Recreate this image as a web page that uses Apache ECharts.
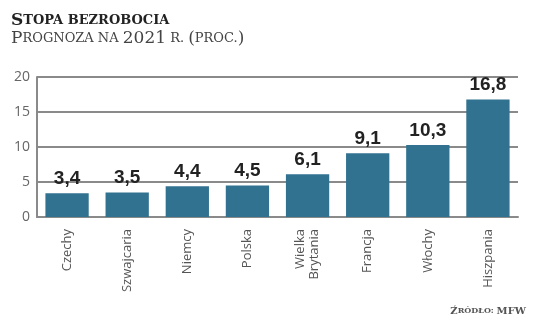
<!DOCTYPE html>
<html>
<head>
<meta charset="utf-8">
<script src="https://cdn.jsdelivr.net/npm/echarts@6/dist/echarts.min.js"></script>
<style>html,body{margin:0;padding:0;background:#fff}#c{width:536px;height:331px}</style>
</head>
<body>
<div id="c"></div>
<script>
var categories = ['Czechy', 'Szwajcaria', 'Niemcy', 'Polska', 'Wielka\nBrytania', 'Francja', 'Włochy', 'Hiszpania'];
var values = [3.4, 3.5, 4.4, 4.5, 6.1, 9.1, 10.3, 16.8];
var yTicks = [0, 5, 10, 15, 20];

var chart = echarts.init(document.getElementById('c'), null, {renderer: 'canvas'});
var serif = '"DejaVu Serif", serif';
chart.setOption({
  animation: false,
  grid: {left: 37, right: 18, top: 77, bottom: 114},
  graphic: [
    {type: 'text', left: 11, top: 12, style: {
      text: '{b|S}{s|TOPA BEZROBOCIA}',
      rich: {
        b: {fontFamily: serif, fontWeight: 'bold', fontSize: 17, fill: '#222'},
        s: {fontFamily: serif, fontWeight: 'bold', fontSize: 13, fill: '#222'}
      }
    }},
    {type: 'text', left: 11, top: 30, style: {
      text: '{b|P}{s|ROGNOZA NA }{b|2021}{s| R. }{b|(}{s|PROC.}{b|)}',
      rich: {
        b: {fontFamily: serif, fontSize: 17, fill: '#444'},
        s: {fontFamily: serif, fontSize: 13, fill: '#444'}
      }
    }},
    {type: 'text', right: 10, top: 306, style: {
      text: '{b|Ź}{s|RÓDŁO: }{b|MFW}',
      rich: {
        b: {fontFamily: serif, fontWeight: 'bold', fontSize: 10, fill: '#555'},
        s: {fontFamily: serif, fontWeight: 'bold', fontSize: 8, fill: '#555'}
      }
    }}
  ],
  xAxis: {
    type: 'category',
    data: categories,
    axisLine: {lineStyle: {color: '#8a8a8a', width: 2}},
    axisTick: {show: false},
    axisLabel: {rotate: 90, margin: 12, fontSize: 13, color: '#555', fontFamily: '"Open Sans", sans-serif', lineHeight: 14}
  },
  yAxis: {
    type: 'value',
    min: 0, max: 20, interval: 5,
    axisLine: {show: true, lineStyle: {color: '#8a8a8a', width: 2}},
    axisTick: {show: false},
    splitLine: {lineStyle: {color: '#8a8a8a', width: 2}},
    axisLabel: {margin: 7, fontSize: 14, color: '#666', fontFamily: '"Open Sans", sans-serif',
      formatter: function (v) { return yTicks.indexOf(v) >= 0 ? String(v) : ''; }}
  },
  series: [{
    type: 'bar',
    data: values,
    barWidth: '72%',
    itemStyle: {color: '#317290'},
    label: {
      show: true, position: 'top', distance: 5,
      fontFamily: '"Liberation Sans Narrow", "Liberation Sans", sans-serif',
      fontWeight: 'bold', fontSize: 19, color: '#222',
      formatter: function (p) { return String(p.value).replace('.', ','); }
    }
  }]
});
</script>
</body>
</html>
